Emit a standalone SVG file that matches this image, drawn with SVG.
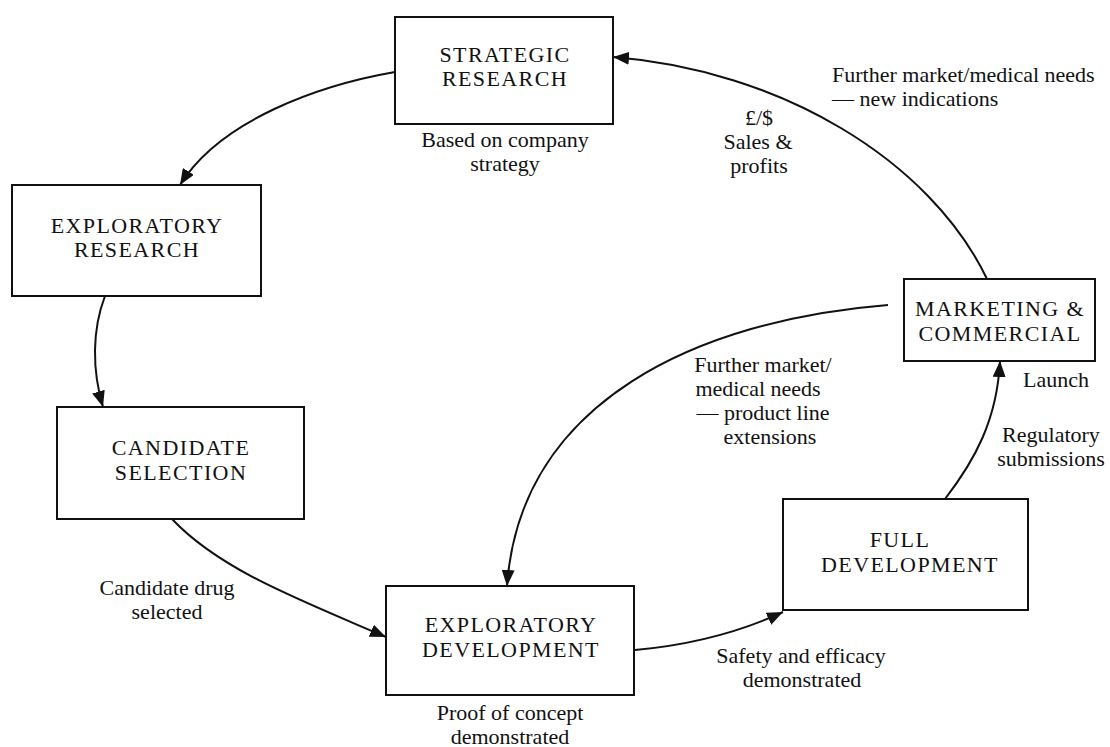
<svg xmlns="http://www.w3.org/2000/svg" width="1110" height="747" viewBox="0 0 1110 747">
<defs>
<marker id="ah" markerWidth="17" markerHeight="13" refX="16" refY="6.5" orient="auto" markerUnits="userSpaceOnUse">
<path d="M0,0 L16,6.5 L0,13 z" fill="#111"/>
</marker>
<style>
.box{fill:#fff;stroke:#111;stroke-width:2}
.bt{font-family:"Liberation Serif","Times New Roman",serif;font-size:22px;letter-spacing:1.4px;fill:#111;text-anchor:middle}
.lb{font-family:"Liberation Serif","Times New Roman",serif;font-size:22px;fill:#111;text-anchor:middle}
.lbl{font-family:"Liberation Serif","Times New Roman",serif;font-size:22px;fill:#111;text-anchor:start}
.cn{fill:none;stroke:#111;stroke-width:2;marker-end:url(#ah)}
</style>
</defs>
<rect width="1110" height="747" fill="#fff"/>
<g id="connectors">
<path class="cn" d="M395,72 C320,85 220,120 180,185"/>
<path class="cn" d="M105,296 C92,330 92,370 103,407"/>
<path class="cn" d="M172,519 C220,570 300,600 386,637"/>
<path class="cn" d="M635,650 C690,645 740,632 783,612"/>
<path class="cn" d="M945,499 C975,460 997,420 1000,361"/>
<path class="cn" d="M987,279 C930,160 780,70 613,57"/>
<path class="cn" d="M888,305 C700,320 520,400 507,586"/>
</g>
<g id="strategic-research">
<rect class="box" x="395" y="17" width="218" height="107"/>
<text class="bt" x="505" y="62">STRATEGIC</text>
<text class="bt" x="505" y="86">RESEARCH</text>
<text class="lb" x="505" y="147">Based on company</text>
<text class="lb" x="505" y="171">strategy</text>
</g>
<g id="exploratory-research">
<rect class="box" x="12" y="185" width="249" height="111"/>
<text class="bt" x="137" y="233">EXPLORATORY</text>
<text class="bt" x="137" y="257">RESEARCH</text>
</g>
<g id="candidate-selection">
<rect class="box" x="57" y="407" width="247" height="112"/>
<text class="bt" x="181" y="455">CANDIDATE</text>
<text class="bt" x="181" y="480">SELECTION</text>
<text class="lb" x="167" y="595">Candidate drug</text>
<text class="lb" x="167" y="619">selected</text>
</g>
<g id="exploratory-development">
<rect class="box" x="386" y="586" width="248" height="109"/>
<text class="bt" x="511" y="632">EXPLORATORY</text>
<text class="bt" x="511" y="657">DEVELOPMENT</text>
<text class="lb" x="510" y="720">Proof of concept</text>
<text class="lb" x="510" y="744">demonstrated</text>
</g>
<g id="full-development">
<rect class="box" x="783" y="499" width="245" height="111"/>
<text class="bt" x="900" y="547">FULL</text>
<text class="bt" x="910" y="572">DEVELOPMENT</text>
<text class="lb" x="801" y="663">Safety and efficacy</text>
<text class="lb" x="802" y="687">demonstrated</text>
</g>
<g id="marketing-commercial">
<rect class="box" x="904" y="279" width="191" height="82"/>
<text class="bt" x="1000" y="316">MARKETING &amp;</text>
<text class="bt" x="1000" y="341">COMMERCIAL</text>
<text class="lbl" x="1023" y="387">Launch</text>
<text class="lb" x="1051" y="442">Regulatory</text>
<text class="lb" x="1051" y="466">submissions</text>
</g>
<g id="connector-labels">
<text class="lb" x="759" y="125">£/$</text>
<text class="lb" x="758" y="149">Sales &amp;</text>
<text class="lb" x="759" y="173">profits</text>
<text class="lbl" x="832" y="82">Further market/medical needs</text>
<text class="lbl" x="832" y="106">— new indications</text>
<text class="lb" x="763" y="372">Further market/</text>
<text class="lb" x="758" y="396">medical needs</text>
<text class="lb" x="763" y="420">— product line</text>
<text class="lb" x="770" y="444">extensions</text>
</g>
</svg>
